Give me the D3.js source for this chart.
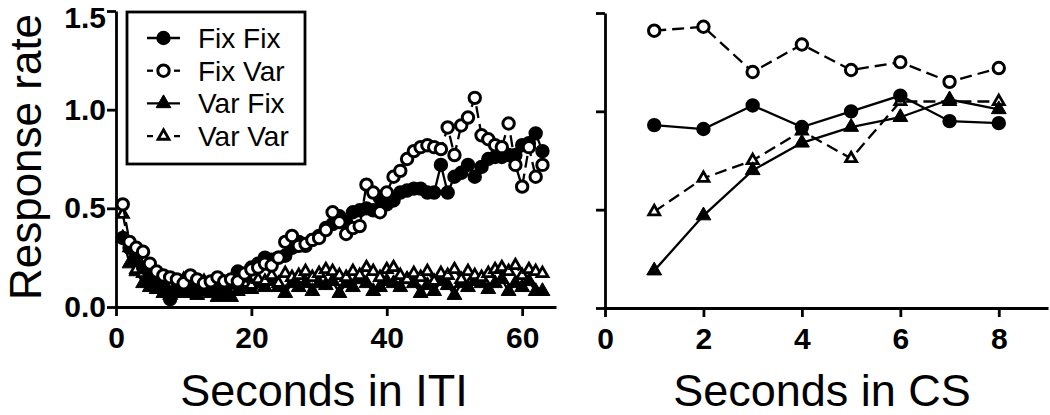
<!DOCTYPE html>
<html>
<head>
<meta charset="utf-8">
<script src="https://cdn.jsdelivr.net/npm/d3@7/dist/d3.min.js"></script>
<style>
  body { margin: 0; background: #fff; }
  svg { display: block; font-family: Arial, "Liberation Sans", sans-serif; }
  .axis path, .axis line { stroke: #000; stroke-width: 2.8; }
  .axis text { font-size: 30px; font-weight: bold; fill: #000; }
</style>
</head>
<body>
<svg width="1050" height="415"></svg>
<script>
// series names (legend order)
var seriesNames = ['Fix Fix', 'Fix Var', 'Var Fix', 'Var Var'];

// left panel: seconds in ITI (1..63)
var itiSeconds = d3.range(1, 64);
var itiFixFix = [0.35, 0.30, 0.25, 0.20, 0.16, 0.12, 0.10, 0.04, 0.08, 0.10,
    0.08, 0.10, 0.11, 0.10, 0.08, 0.10, 0.13, 0.18, 0.16, 0.20,
    0.22, 0.25, 0.24, 0.25, 0.26, 0.30, 0.33, 0.31, 0.34, 0.36,
    0.40, 0.42, 0.46, 0.43, 0.48, 0.49, 0.50, 0.49, 0.55, 0.52,
    0.54, 0.58, 0.59, 0.60, 0.60, 0.58, 0.58, 0.72, 0.58, 0.66,
    0.68, 0.72, 0.66, 0.71, 0.75, 0.76, 0.76, 0.77, 0.77, 0.82,
    0.83, 0.88, 0.79];
var itiFixVar = [0.52, 0.33, 0.30, 0.28, 0.22, 0.18, 0.16, 0.15, 0.14, 0.12,
    0.16, 0.14, 0.12, 0.13, 0.15, 0.13, 0.14, 0.13, 0.17, 0.19,
    0.20, 0.22, 0.21, 0.25, 0.33, 0.36, 0.31, 0.32, 0.34, 0.35,
    0.39, 0.48, 0.43, 0.37, 0.40, 0.41, 0.62, 0.58, 0.48, 0.58,
    0.66, 0.69, 0.75, 0.79, 0.81, 0.82, 0.81, 0.80, 0.91, 0.77,
    0.92, 0.96, 1.06, 0.87, 0.85, 0.82, 0.81, 0.93, 0.72, 0.61,
    0.81, 0.66, 0.72];
var itiVarFix = [0.35, 0.22, 0.18, 0.12, 0.10, 0.09, 0.07, 0.06, 0.09, 0.07,
    0.08, 0.06, 0.08, 0.07, 0.05, 0.06, 0.05, 0.08, 0.10, 0.09,
    0.12, 0.10, 0.13, 0.10, 0.07, 0.12, 0.10, 0.12, 0.08, 0.12,
    0.11, 0.13, 0.07, 0.12, 0.10, 0.14, 0.12, 0.08, 0.10, 0.13,
    0.12, 0.10, 0.14, 0.12, 0.07, 0.11, 0.08, 0.13, 0.11, 0.06,
    0.12, 0.10, 0.13, 0.12, 0.09, 0.12, 0.14, 0.08, 0.12, 0.10,
    0.13, 0.08, 0.08];
var itiVarVar = [0.47, 0.30, 0.19, 0.17, 0.14, 0.12, 0.13, 0.11, 0.12, 0.14,
    0.10, 0.12, 0.13, 0.11, 0.10, 0.12, 0.11, 0.14, 0.12, 0.11,
    0.14, 0.13, 0.16, 0.12, 0.17, 0.15, 0.16, 0.18, 0.15, 0.17,
    0.19, 0.18, 0.16, 0.15, 0.18, 0.16, 0.20, 0.18, 0.15, 0.19,
    0.20, 0.16, 0.14, 0.17, 0.15, 0.18, 0.13, 0.17, 0.16, 0.19,
    0.14, 0.18, 0.16, 0.15, 0.17, 0.19, 0.20, 0.18, 0.21, 0.16,
    0.19, 0.18, 0.17];

// right panel: seconds in CS (1..8)
var csSeconds = [1, 2, 3, 4, 5, 6, 7, 8];
var csFixFix = [0.93, 0.91, 1.03, 0.92, 1.00, 1.08, 0.95, 0.94];
var csFixVar = [1.41, 1.43, 1.20, 1.34, 1.21, 1.25, 1.15, 1.22];
var csVarFix = [0.19, 0.47, 0.70, 0.84, 0.92, 0.97, 1.06, 1.01];
var csVarVar = [0.49, 0.66, 0.75, 0.90, 0.76, 1.05, 1.05, 1.05];

var yTicks = [0, 0.5, 1.0, 1.5];
var itiTicks = [0, 20, 40, 60];
var csTicks = [0, 2, 4, 6, 8];

// marker styles per series
var styles = [
    { filled: true, shape: 'circle', dash: null },
    { filled: false, shape: 'circle', dash: '12,6' },
    { filled: true, shape: 'triangle', dash: null },
    { filled: false, shape: 'triangle', dash: '12,6' }
];

var svg = d3.select('svg');

var yLeft = d3.scaleLinear().domain([0, 1.5]).range([307, 11]);
var xLeft = d3.scaleLinear().domain([0, 65]).range([116, 556]);
var yRight = d3.scaleLinear().domain([0, 1.5]).range([308, 13]);
var xRight = d3.scaleLinear().domain([0, 9]).range([605, 1048]);

function drawAxes(x, y, xt, showYLabels) {
    svg.append('g').attr('class', 'axis')
        .attr('transform', 'translate(0,' + y(0) + ')')
        .call(d3.axisBottom(x).tickValues(xt).tickSize(9).tickSizeOuter(0).tickPadding(11)
            .tickFormat(d3.format('d')));
    var ya = d3.axisLeft(y).tickValues(yTicks).tickSize(9).tickSizeOuter(0).tickPadding(1)
        .tickFormat(showYLabels ? d3.format('.1f') : '');
    var g = svg.append('g').attr('class', 'axis')
        .attr('transform', 'translate(' + x(0) + ',0)')
        .call(ya);
    // top label sits a bit lower, as in the original figure
    g.selectAll('.tick text').filter(function (d) { return d === 1.5; })
        .attr('dy', '0.55em');
}

function drawMarker(g, s, px, py) {
    if (s.shape === 'circle') {
        g.append('circle').attr('cx', px).attr('cy', py).attr('r', 5.7)
            .attr('fill', s.filled ? '#000' : '#fff')
            .attr('stroke', '#000').attr('stroke-width', 3);
    } else {
        g.append('path')
            .attr('d', d3.symbol().type(d3.symbolTriangle).size(s.filled ? 95 : 52)())
            .attr('transform', 'translate(' + px + ',' + py + ')')
            .attr('fill', s.filled ? '#000' : '#fff')
            .attr('stroke', '#000').attr('stroke-width', s.filled ? 1 : 2.8)
            .attr('stroke-linejoin', 'miter');
    }
}

function drawSeries(xs, ys, x, y, s) {
    var g = svg.append('g');
    var pts = xs.map(function (d, i) { return [x(d), y(ys[i])]; });
    g.append('path')
        .attr('d', d3.line()(pts))
        .attr('fill', 'none')
        .attr('stroke', '#000')
        .attr('stroke-width', 2.3)
        .attr('stroke-dasharray', s.dash);
    pts.forEach(function (p) { drawMarker(g, s, p[0], p[1]); });
}

drawAxes(xLeft, yLeft, itiTicks, true);
drawAxes(xRight, yRight, csTicks, false);

var itiData = [itiFixFix, itiFixVar, itiVarFix, itiVarVar];
var csData = [csFixFix, csFixVar, csVarFix, csVarVar];

// draw triangles first so circles sit over them in the left panel
[2, 3, 0, 1].forEach(function (k) {
    drawSeries(itiSeconds, itiData[k], xLeft, yLeft, styles[k]);
});
[3, 2, 0, 1].forEach(function (k) {
    drawSeries(csSeconds, csData[k], xRight, yRight, styles[k]);
});

// legend
var legend = svg.append('g');
legend.append('rect')
    .attr('x', 127).attr('y', 12).attr('width', 178).attr('height', 152)
    .attr('fill', '#fff').attr('stroke', '#000').attr('stroke-width', 2.8);
seriesNames.forEach(function (name, i) {
    var ly = 38 + i * 32.7;
    var s = styles[i];
    var lg = legend.append('g');
    if (s.dash) {
        lg.append('line').attr('x1', 147).attr('x2', 153).attr('y1', ly).attr('y2', ly)
            .attr('stroke', '#000').attr('stroke-width', 2.3);
        lg.append('line').attr('x1', 174).attr('x2', 180).attr('y1', ly).attr('y2', ly)
            .attr('stroke', '#000').attr('stroke-width', 2.3);
    } else {
        lg.append('line').attr('x1', 147).attr('x2', 180).attr('y1', ly).attr('y2', ly)
            .attr('stroke', '#000').attr('stroke-width', 2.3);
    }
    drawMarker(lg, s, 163.5, ly);
    legend.append('text')
        .attr('x', 198).attr('y', ly + 10)
        .attr('font-size', 28)
        .text(name);
});

// axis titles
svg.append('text')
    .attr('transform', 'translate(41,157) rotate(-90)')
    .attr('text-anchor', 'middle')
    .attr('font-size', 44)
    .text('Response rate');
svg.append('text')
    .attr('x', 324).attr('y', 406)
    .attr('text-anchor', 'middle')
    .attr('font-size', 45)
    .text('Seconds in ITI');
svg.append('text')
    .attr('x', 822).attr('y', 406)
    .attr('text-anchor', 'middle')
    .attr('font-size', 45)
    .text('Seconds in CS');
</script>
</body>
</html>
